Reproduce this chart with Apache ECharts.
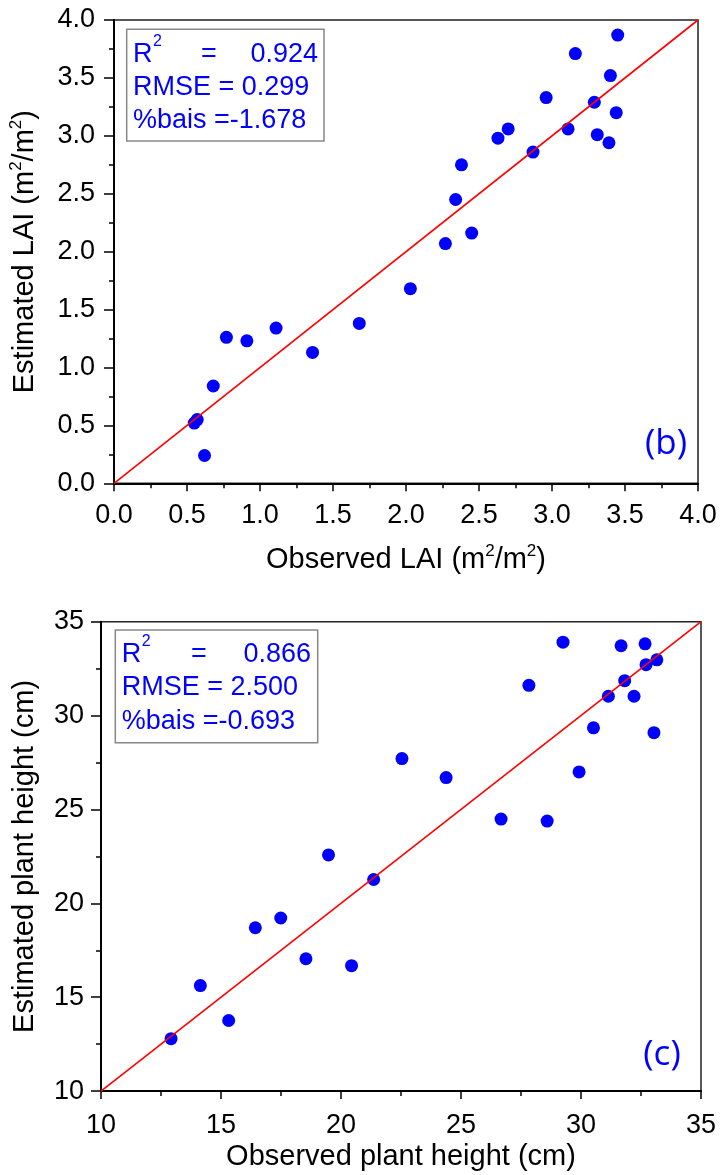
<!DOCTYPE html>
<html><head><meta charset="utf-8">
<script src="https://cdn.jsdelivr.net/npm/echarts@6/dist/echarts.min.js"></script>
<style>html,body{margin:0;padding:0;background:#fff}#c{width:722px;height:1175px}</style>
</head><body><div id="c"></div>
<script>
// Panel (b): LAI
const laiObserved  = [3.45,3.16,3.40,2.96,3.29,3.44,3.11,2.70,2.63,3.31,3.39,2.87,2.38,2.34,2.45,2.27,2.03,1.68,1.36,1.11,0.91,0.77,0.68,0.57,0.55,0.62];
const laiEstimated = [3.87,3.71,3.52,3.33,3.29,3.20,3.06,3.06,2.98,3.01,2.94,2.86,2.75,2.45,2.16,2.07,1.68,1.38,1.13,1.34,1.23,1.26,0.84,0.55,0.52,0.24];
const laiOneToOne  = [[0,0],[4,4]];
const laiStats     = {r2:'0.924', rmse:'0.299', bias:'-1.678'};
// Panel (c): plant height
const hgtObserved  = [29.25,31.67,32.67,32.71,33.16,31.82,27.83,31.14,32.21,30.52,33.04,22.54,24.38,29.92,26.67,28.59,19.48,21.36,17.49,16.43,18.54,20.44,14.14,15.32,12.92];
const hgtEstimated = [33.91,33.72,33.82,32.71,32.97,31.86,31.61,31.03,31.03,29.35,29.09,27.71,26.70,27.00,24.49,24.38,22.58,21.27,19.22,18.70,17.05,16.68,15.62,13.76,12.79];
const hgtOneToOne  = [[10,10],[35,35]];
const hgtStats     = {r2:'0.866', rmse:'2.500', bias:'-0.693'};

const FONT = 'Liberation Sans, Arial, sans-serif';
const BLUE = '#0000ff';

function pairs(xs, ys){ return xs.map((x,i)=>[x, ys[i]]); }

function mkAxis(opt){
  return Object.assign({
    type:'value',
    splitLine:{show:false},
    axisLine:{show:true, onZero:false, lineStyle:{color:'#000', width:2}},
    axisTick:{show:true, inside:false, length:8, lineStyle:{color:'#000', width:1.5}},
    minorTick:{show:true, splitNumber:2, length:5, lineStyle:{color:'#000', width:1.5}},
    nameLocation:'middle',
    nameTextStyle:{fontFamily:FONT, fontSize:29, color:'#000', lineHeight:34,
      rich:{sup:{fontFamily:FONT, fontSize:17, color:'#000', verticalAlign:'top', lineHeight:20}}},
  }, opt);
}
const labelStyle = (fmt, margin) => ({fontFamily:FONT, fontSize:27, color:'#000', margin:margin, formatter:fmt});

const option = {
  animation:false,
  backgroundColor:'#fff',
  grid:[
    {left:113.5, top:20, width:584.5, height:463.3, show:true, borderColor:'#222', borderWidth:1.5, containLabel:false},
    {left:100.5, top:621.7, width:600.5, height:471.6, show:true, borderColor:'#222', borderWidth:1.5, containLabel:false}
  ],
  xAxis:[
    mkAxis({gridIndex:0, min:0, max:4, interval:0.5, axisLabel:labelStyle(v=>v.toFixed(1), 19),
      name:'Observed LAI (m{sup|2}/m{sup|2})', nameGap:60}),
    mkAxis({gridIndex:1, min:10, max:35, interval:5, axisLabel:labelStyle(v=>String(v), 21),
      name:'Observed plant height (cm)', nameGap:44}),
  ],
  yAxis:[
    mkAxis({gridIndex:0, min:0, max:4, interval:0.5, axisTick:{show:true,length:10,lineStyle:{color:'#000',width:1.5}},
      axisLabel:labelStyle(v=>v.toFixed(1), 19),
      name:'Estimated LAI (m{sup|2}/m{sup|2})', nameGap:72}),
    mkAxis({gridIndex:1, min:10, max:35, interval:5, axisTick:{show:true,length:10,lineStyle:{color:'#000',width:1.5}},
      axisLabel:labelStyle(v=>String(v), 17),
      name:'Estimated plant height (cm)', nameGap:59})
  ],
  series:[
    {type:'scatter', xAxisIndex:0, yAxisIndex:0, data:pairs(laiObserved, laiEstimated), symbol:'circle', symbolSize:13,
      itemStyle:{color:BLUE, opacity:1}, z:2},
    {type:'line', xAxisIndex:0, yAxisIndex:0, data:laiOneToOne, showSymbol:false, symbol:'none',
      lineStyle:{color:'#ff0000', width:1.6}, z:3},
    {type:'scatter', xAxisIndex:1, yAxisIndex:1, data:pairs(hgtObserved, hgtEstimated), symbol:'circle', symbolSize:13,
      itemStyle:{color:BLUE, opacity:1}, z:2},
    {type:'line', xAxisIndex:1, yAxisIndex:1, data:hgtOneToOne, showSymbol:false, symbol:'none',
      lineStyle:{color:'#ff0000', width:1.6}, z:3}
  ],
  graphic:[]
};

function statBox(x, y, w, h, tx, cy, eqX, valRight, st){
  const ts = {fontFamily:FONT, fontSize:27, fill:BLUE};
  return [
    {type:'rect', shape:{x:x, y:y, width:w, height:h}, style:{fill:'#fff', stroke:'#888', lineWidth:1.5}, z:10},
    {type:'text', x:tx, y:cy[0], style:Object.assign({text:'R', verticalAlign:'middle'}, ts), z:11},
    {type:'text', x:tx+20, y:cy[0]-13, style:{text:'2', fontFamily:FONT, fontSize:16, fill:BLUE, verticalAlign:'middle'}, z:11},
    {type:'text', x:eqX, y:cy[0], style:Object.assign({text:'=', verticalAlign:'middle'}, ts), z:11},
    {type:'text', x:valRight, y:cy[0], style:Object.assign({text:st.r2, align:'right', verticalAlign:'middle'}, ts), z:11},
    {type:'text', x:tx, y:cy[1], style:Object.assign({text:'RMSE = '+st.rmse, verticalAlign:'middle'}, ts), z:11},
    {type:'text', x:tx, y:cy[2], style:Object.assign({text:'%bais ='+st.bias, verticalAlign:'middle'}, ts), z:11}
  ];
}
option.graphic = [].concat(
  statBox(126.7, 29.3, 197.3, 111.7, 133, [55, 88, 121], 201, 318, laiStats),
  statBox(115.3, 630, 202.4, 112.7, 121.7, [655, 688, 721.5], 191, 311, hgtStats),
  [
    {type:'text', x:666, y:444, style:{text:'(b)', fontFamily:'Open Sans, sans-serif', fontSize:35, fill:BLUE, align:'center', verticalAlign:'middle'}, z:11},
    {type:'text', x:662, y:1055, style:{text:'(c)', fontFamily:'Open Sans, sans-serif', fontSize:35, fill:BLUE, align:'center', verticalAlign:'middle'}, z:11}
  ]
);

const chart = echarts.init(document.getElementById('c'), null, {renderer:'canvas', width:722, height:1175});
chart.setOption(option);
</script></body></html>
